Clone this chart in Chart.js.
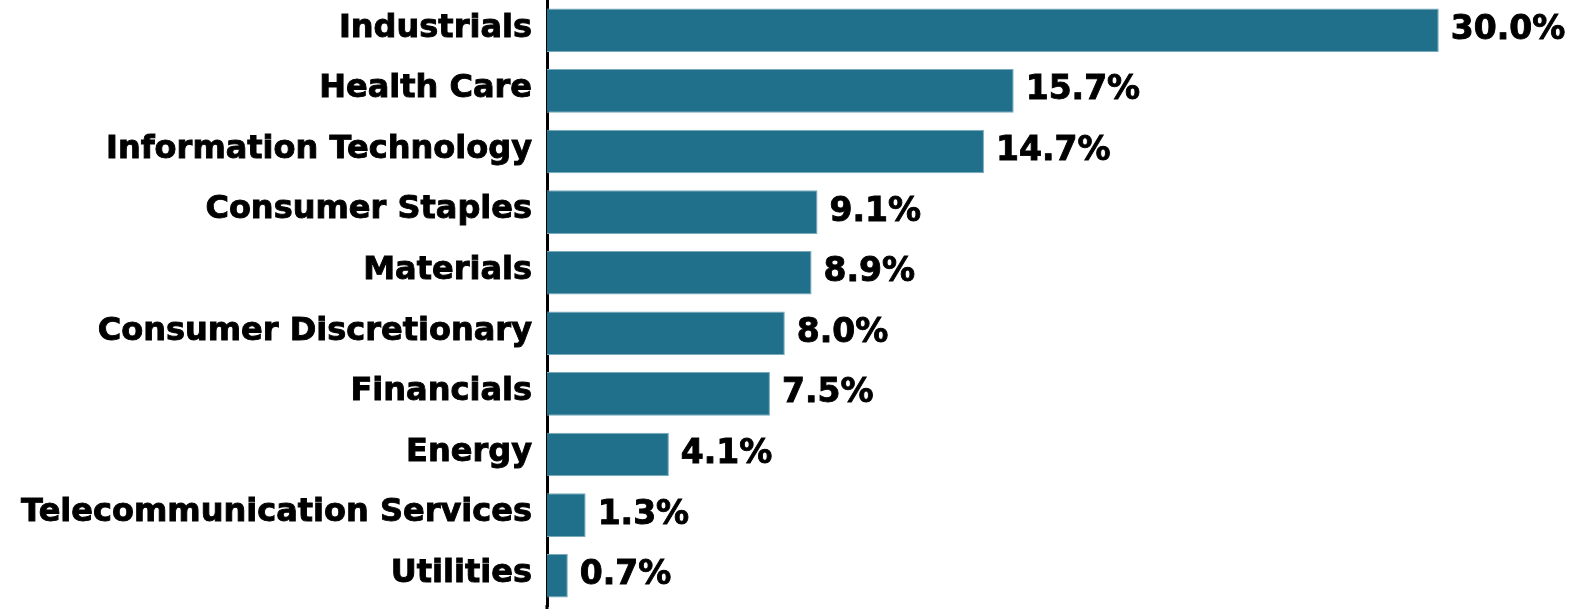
<!DOCTYPE html>
<html>
<head>
<meta charset="utf-8">
<script src="https://cdn.jsdelivr.net/npm/chart.js@4"></script>
<style>
  html, body { margin: 0; padding: 0; background: #fff; }
  #wrap { width: 1574px; height: 609px; position: relative; }
</style>
</head>
<body>
<div id="wrap"><canvas id="chart"></canvas></div>
<script>
const sectors = [
  "Industrials", "Health Care", "Information Technology", "Consumer Staples",
  "Materials", "Consumer Discretionary", "Financials", "Energy",
  "Telecommunication Services", "Utilities",
];
const weights = [30.0, 15.7, 14.7, 9.1, 8.9, 8.0, 7.5, 4.1, 1.3, 0.7];

const FONT = "'DejaVu Sans', Verdana, sans-serif";

// value labels at bar ends, plus the axis line running down to the canvas edge
const valueLabels = {
  id: "valueLabels",
  afterDatasetsDraw(chart) {
    const { ctx } = chart;
    const meta = chart.getDatasetMeta(0);
    ctx.save();
    ctx.font = `bold 33px ${FONT}`;
    ctx.fillStyle = "#000";
    ctx.strokeStyle = "#000";
    ctx.lineWidth = 0.9;
    ctx.textAlign = "left";
    ctx.textBaseline = "middle";
    meta.data.forEach((bar, i) => {
      const txt = weights[i].toFixed(1) + "%";
      ctx.fillText(txt, bar.x + 12, bar.y);
      ctx.strokeText(txt, bar.x + 12, bar.y);
    });
    const x = chart.scales.y.right;
    ctx.lineWidth = 3;
    ctx.beginPath();
    ctx.moveTo(x, chart.chartArea.bottom - 1);
    ctx.lineTo(x, chart.height);
    ctx.stroke();
    ctx.restore();
  },
};

new Chart(document.getElementById("chart"), {
  type: "bar",
  data: {
    labels: sectors,
    datasets: [{
      data: weights,
      backgroundColor: "#20708c",
      borderColor: "#78aabb",
      borderWidth: 1,
      barPercentage: 1,
      categoryPercentage: 0.72,
    }],
  },
  options: {
    indexAxis: "y",
    animation: false,
    responsive: true,
    maintainAspectRatio: false,
    layout: { padding: { top: 0, bottom: 3, left: 0, right: 0 } },
    plugins: { legend: { display: false }, tooltip: { enabled: false } },
    scales: {
      x: { display: false, min: 0, max: 34.55 },
      y: {
        grid: { display: false, drawTicks: false },
        border: { color: "#000", width: 3 },
        ticks: {
          color: "#000",
          textStrokeColor: "#000",
          textStrokeWidth: 0.9,
          padding: 15,
          labelOffset: -2,
          font: { family: FONT, size: 32, weight: "bold" },
        },
        afterFit: (s) => {
          s.width = 547;
          s.paddingTop = 0;
          s.paddingBottom = 0;
        },
      },
    },
  },
  plugins: [valueLabels],
});
</script>
</body>
</html>
